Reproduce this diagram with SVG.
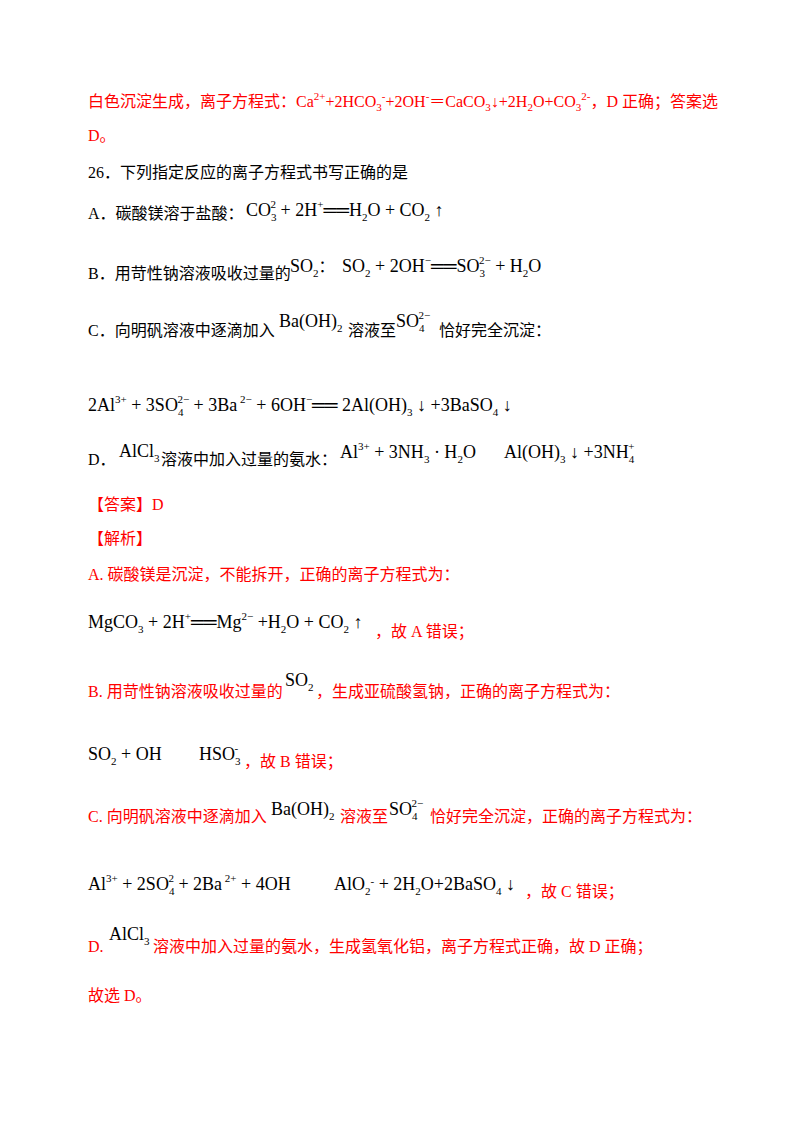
<svg xmlns="http://www.w3.org/2000/svg" width="800" height="1129" viewBox="0 0 800 1129">
<style>
text{font-family:"Liberation Serif","Noto Sans CJK SC",serif;font-size:16px;fill:#000}
.r{fill:#ff0000}
.e{font-size:18px}
.s{font-size:11px}
</style>
<rect width="800" height="1129" fill="#fff"/>
<text class="r" x="88" y="107">白色沉淀生成，离子方程式：Ca<tspan class="s" dy="-7">2+</tspan><tspan dy="7">+2HCO</tspan><tspan class="s" dy="4">3</tspan><tspan class="s" dy="-11">-</tspan><tspan dy="7">+2OH</tspan><tspan class="s" dy="-7">-</tspan><tspan dy="7">＝CaCO</tspan><tspan class="s" dy="4">3</tspan><tspan dy="-4">↓+2H</tspan><tspan class="s" dy="4">2</tspan><tspan dy="-4">O+CO</tspan><tspan class="s" dy="4">3</tspan><tspan class="s" dy="-11">2-</tspan><tspan dy="7">，D 正确；答案选</tspan></text>
<text class="r" x="88" y="141">D。</text>
<text x="88" y="178">26．下列指定反应的离子方程式书写正确的是</text>
<text x="88" y="219">A．碳酸镁溶于盐酸：</text>
<text class="e" x="246" y="216">CO<tspan class="s" dy="5">3</tspan><tspan class="s" dx="-6" dy="-13">2</tspan><tspan dy="8"> + 2H</tspan><tspan class="s" dy="-8">+</tspan><tspan dy="8">══H</tspan><tspan class="s" dy="5">2</tspan><tspan dy="-5">O + CO</tspan><tspan class="s" dy="5">2</tspan><tspan dy="-5"> ↑</tspan></text>
<text x="88" y="279">B．用苛性钠溶液吸收过量的</text>
<text class="e" x="290" y="272">SO<tspan class="s" dy="5">2</tspan><tspan dy="-5" style="font-size:16px">：</tspan></text>
<text class="e" x="342" y="272">SO<tspan class="s" dy="5">2</tspan><tspan dy="-5"> + 2OH</tspan><tspan class="s" dy="-8">−</tspan><tspan dy="8">══SO</tspan><tspan class="s" dy="5">3</tspan><tspan class="s" dx="-6" dy="-13">2−</tspan><tspan dy="8"> + H</tspan><tspan class="s" dy="5">2</tspan><tspan dy="-5">O</tspan></text>
<text x="88" y="336">C．向明矾溶液中逐滴加入</text>
<text class="e" x="279" y="327">Ba(OH)<tspan class="s" dy="5">2</tspan></text>
<text x="348" y="336">溶液至</text>
<text class="e" x="396" y="327">SO<tspan class="s" dy="5">4</tspan><tspan class="s" dx="-6" dy="-13">2−</tspan></text>
<text x="439" y="336">恰好完全沉淀：</text>
<text class="e" x="88" y="411">2Al<tspan class="s" dy="-8">3+</tspan><tspan dy="8"> + 3SO</tspan><tspan class="s" dy="5">4</tspan><tspan class="s" dx="-6" dy="-13">2−</tspan><tspan dy="8"> + 3Ba</tspan><tspan class="s" dy="-8"> 2−</tspan><tspan dy="8"> + 6OH</tspan><tspan class="s" dy="-8">−</tspan><tspan dy="8">══ 2Al(OH)</tspan><tspan class="s" dy="5">3</tspan><tspan dy="-5"> ↓ +3BaSO</tspan><tspan class="s" dy="5">4</tspan><tspan dy="-5"> ↓</tspan></text>
<text x="88" y="465">D．</text>
<text class="e" x="119" y="457">AlCl<tspan class="s" dy="5">3</tspan></text>
<text x="161" y="465">溶液中加入过量的氨水：</text>
<text class="e" x="340" y="458">Al<tspan class="s" dy="-8">3+</tspan><tspan dy="8"> + 3NH</tspan><tspan class="s" dy="5">3</tspan><tspan dy="-5"> · H</tspan><tspan class="s" dy="5">2</tspan><tspan dy="-5">O</tspan></text>
<text class="e" x="504" y="458">Al(OH)<tspan class="s" dy="5">3</tspan><tspan dy="-5"> ↓ +3NH</tspan><tspan class="s" dy="5">4</tspan><tspan class="s" dx="-6" dy="-13">+</tspan></text>
<text class="r" x="88" y="510">【答案】D</text>
<text class="r" x="88" y="544">【解析】</text>
<text class="r" x="88" y="580">A. 碳酸镁是沉淀，不能拆开，正确的离子方程式为：</text>
<text class="e" x="88" y="628">MgCO<tspan class="s" dy="5">3</tspan><tspan dy="-5"> + 2H</tspan><tspan class="s" dy="-8">+</tspan><tspan dy="8">══Mg</tspan><tspan class="s" dy="-8">2−</tspan><tspan dy="8"> +H</tspan><tspan class="s" dy="5">2</tspan><tspan dy="-5">O + CO</tspan><tspan class="s" dy="5">2</tspan><tspan dy="-5"> ↑</tspan></text>
<text class="r" x="375" y="637">，故 A 错误；</text>
<text class="r" x="88" y="697">B. 用苛性钠溶液吸收过量的</text>
<text class="e" x="285" y="686">SO<tspan class="s" dy="5">2</tspan></text>
<text class="r" x="316" y="697">，生成亚硫酸氢钠，正确的离子方程式为：</text>
<text class="e" x="88" y="760">SO<tspan class="s" dy="5">2</tspan><tspan dy="-5"> + OH</tspan></text>
<text class="e" x="199" y="760">HSO<tspan class="s" dy="5">3</tspan><tspan class="s" dx="-6" dy="-13">-</tspan></text>
<text class="r" x="244" y="767">，故 B 错误；</text>
<text class="r" x="88" y="822">C. 向明矾溶液中逐滴加入</text>
<text class="e" x="271" y="815">Ba(OH)<tspan class="s" dy="5">2</tspan></text>
<text class="r" x="340" y="822">溶液至</text>
<text class="e" x="389" y="815">SO<tspan class="s" dy="5">4</tspan><tspan class="s" dx="-6" dy="-13">2−</tspan></text>
<text class="r" x="430" y="822">恰好完全沉淀，正确的离子方程式为：</text>
<text class="e" x="88" y="890">Al<tspan class="s" dy="-8">3+</tspan><tspan dy="8"> + 2SO</tspan><tspan class="s" dy="5">4</tspan><tspan class="s" dx="-6" dy="-13">2</tspan><tspan dy="8">  + 2Ba</tspan><tspan class="s" dy="-8"> 2+</tspan><tspan dy="8"> + 4OH</tspan></text>
<text class="e" x="334" y="890">AlO<tspan class="s" dy="5">2</tspan><tspan class="s" dy="-10">-</tspan><tspan dy="5"> + 2H</tspan><tspan class="s" dy="5">2</tspan><tspan dy="-5">O+2BaSO</tspan><tspan class="s" dy="5">4</tspan><tspan dy="-5"> ↓</tspan></text>
<text class="r" x="525" y="897">，故 C 错误；</text>
<text class="r" x="88" y="952">D.</text>
<text class="e" x="109" y="940">AlCl<tspan class="s" dy="5">3</tspan></text>
<text class="r" x="153" y="952">溶液中加入过量的氨水，生成氢氧化铝，离子方程式正确，故 D 正确；</text>
<text class="r" x="88" y="1001">故选 D。</text>
</svg>
